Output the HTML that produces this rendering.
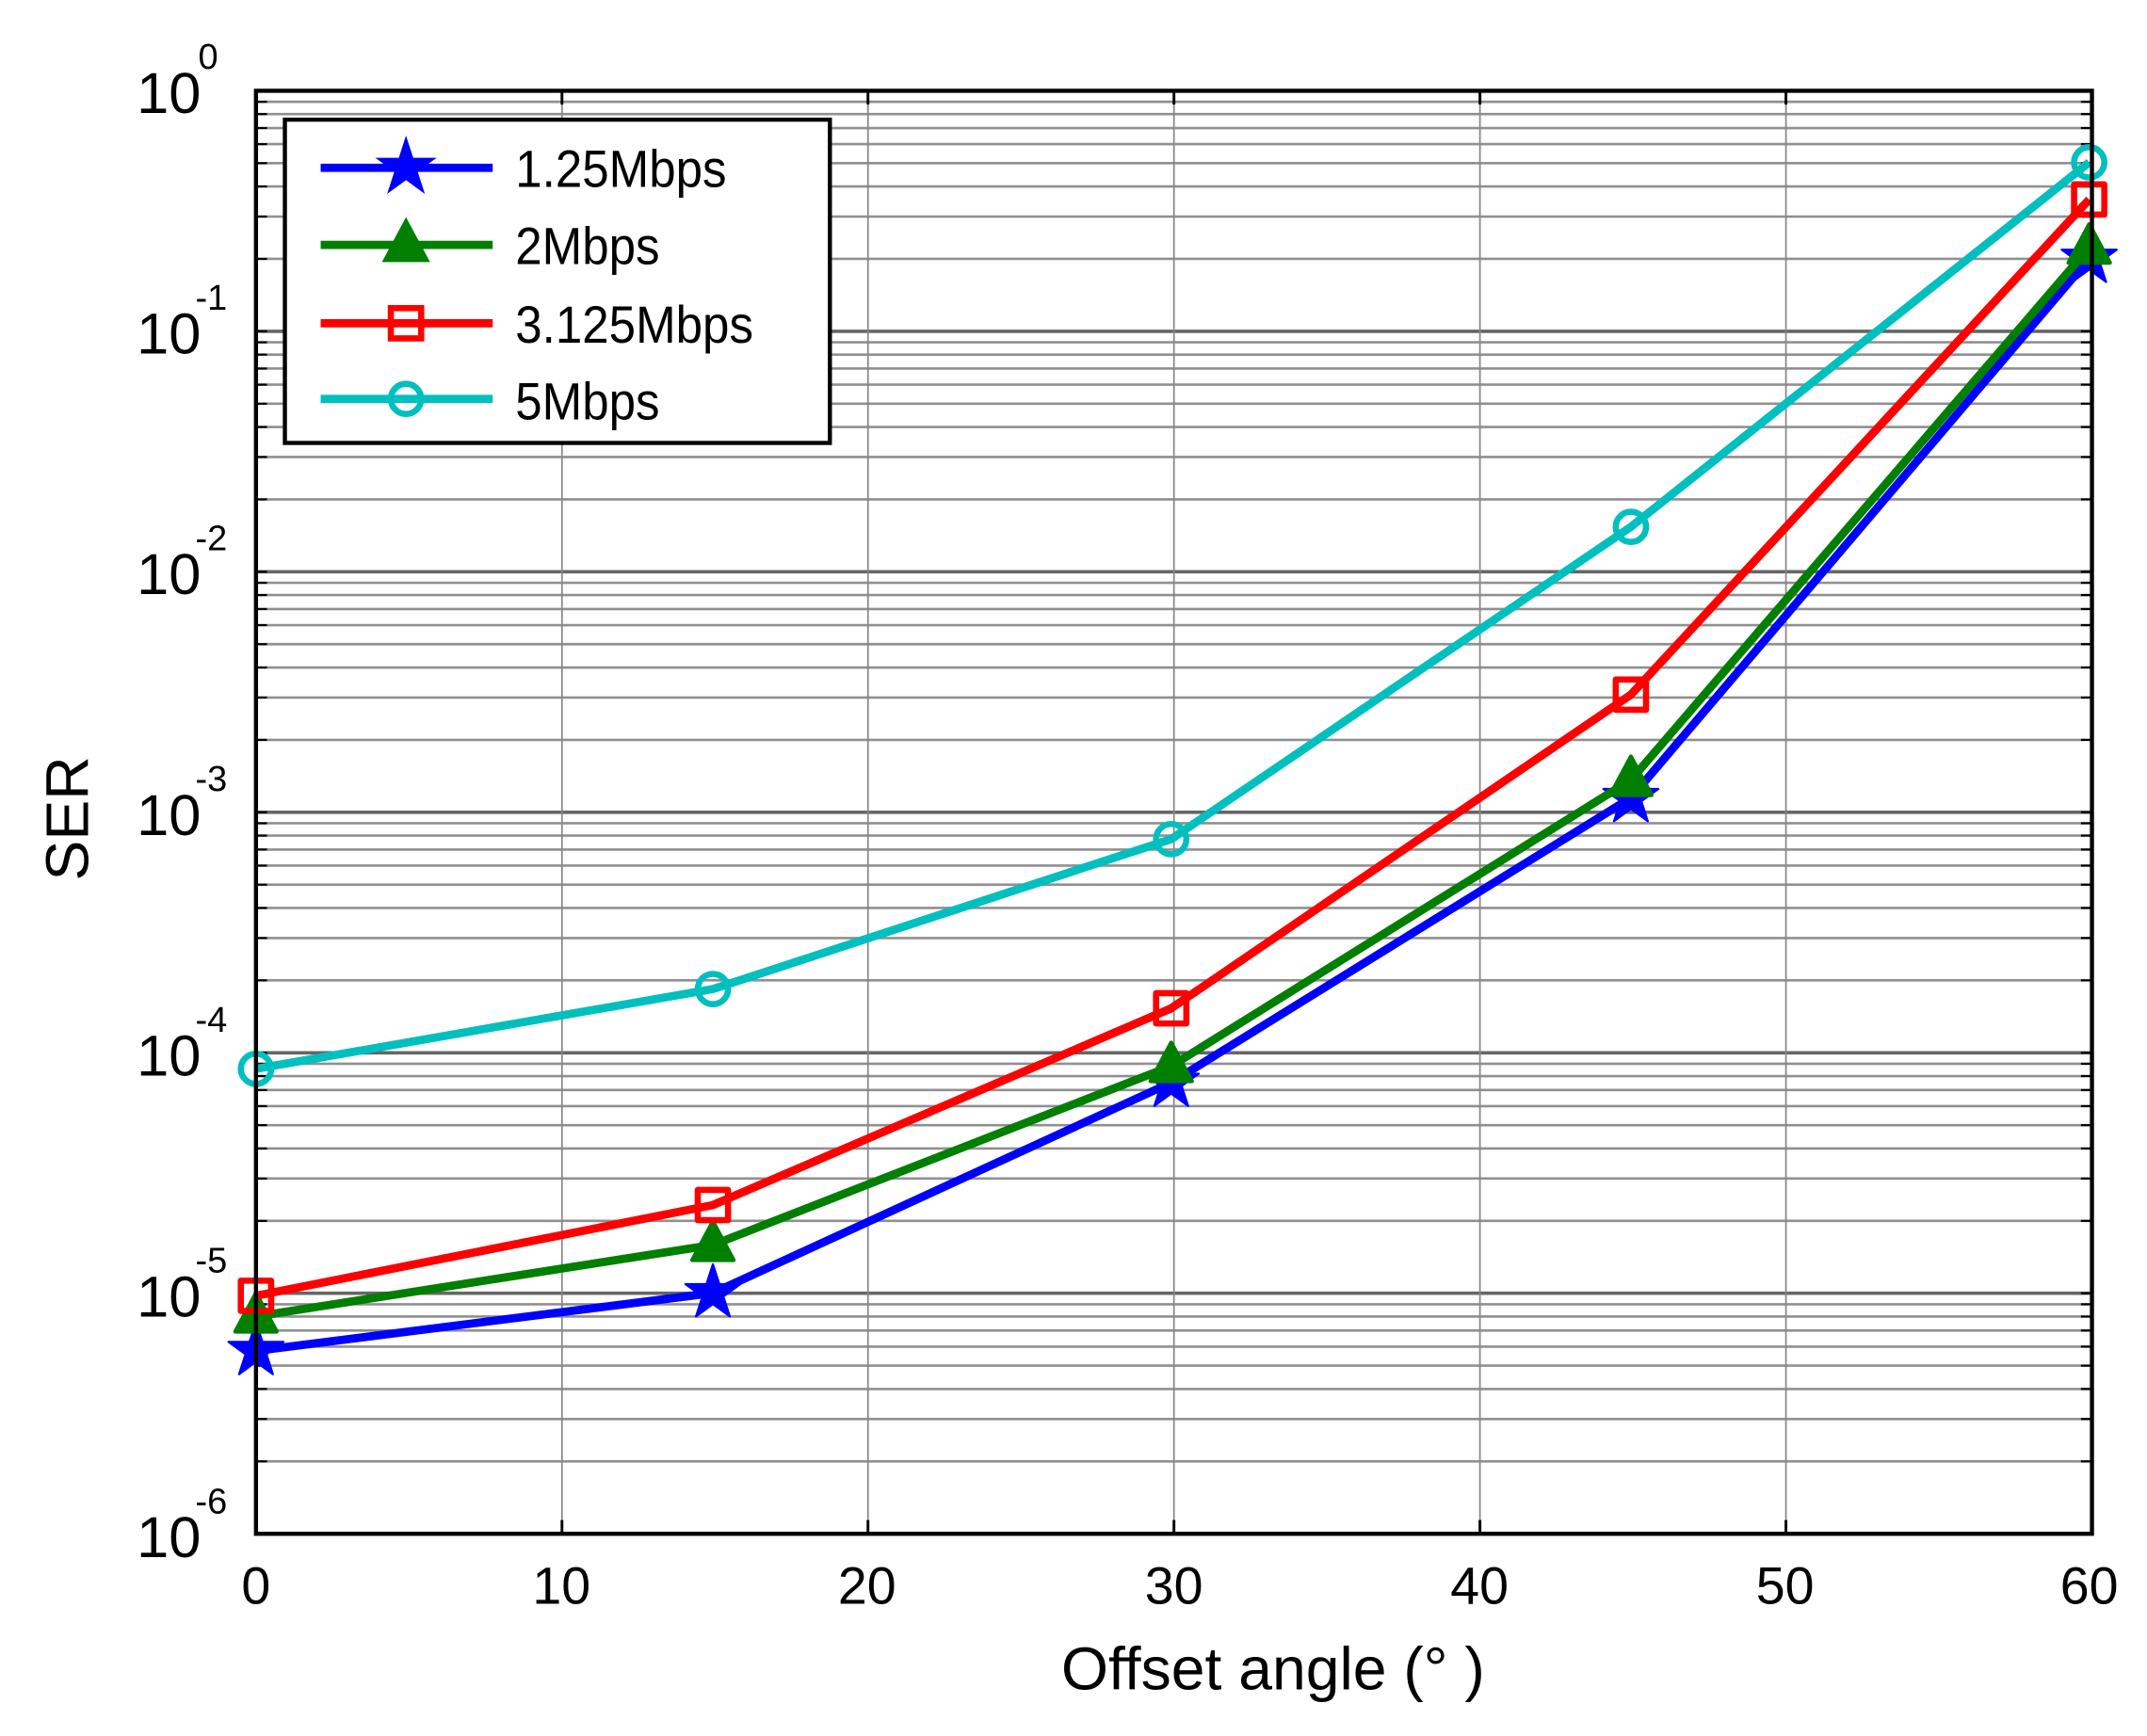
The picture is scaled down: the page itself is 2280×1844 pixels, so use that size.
<!DOCTYPE html>
<html><head><meta charset="utf-8">
<style>
html,body{margin:0;padding:0;background:#fff;}
svg{display:block;}
text{font-family:"Liberation Sans",Arial,sans-serif;fill:#000;}
</style></head>
<body>
<svg id="s" width="2280" height="1844" viewBox="0 0 1560 1262" preserveAspectRatio="none" xmlns="http://www.w3.org/2000/svg">
<rect width="1560" height="1262" fill="#fff"/>
<g id="grid"></g>
<g id="series" fill="none" stroke-width="6" stroke-linejoin="round"></g>
<rect x="186" y="66" width="1334" height="1049" fill="none" stroke="#000" stroke-width="3"/>
<rect x="207" y="87" width="396" height="235" fill="#fff" stroke="#000" stroke-width="3"/>
<g id="legend"></g>
<g font-size="38" transform="scale(0.92,1)">
<text x="407" y="136">1.25Mbps</text>
<text x="407" y="192">2Mbps</text>
<text x="407" y="249">3.125Mbps</text>
<text x="407" y="305">5Mbps</text>
</g>
<g font-size="42" text-anchor="end">
<text x="146" y="82">10</text><text x="146" y="257">10</text><text x="146" y="432">10</text>
<text x="146" y="607">10</text><text x="146" y="782">10</text><text x="146" y="957">10</text><text x="146" y="1132">10</text>
</g>
<g font-size="26">
<text x="144" y="50">0</text><text x="142" y="225">-1</text><text x="142" y="400">-2</text>
<text x="142" y="575">-3</text><text x="142" y="750">-4</text><text x="142" y="925">-5</text><text x="142" y="1100">-6</text>
</g>
<g font-size="38" text-anchor="middle">
<text x="186" y="1166">0</text><text x="408" y="1166">10</text><text x="630" y="1166">20</text>
<text x="853" y="1166">30</text><text x="1075" y="1166">40</text><text x="1297" y="1166">50</text><text x="1518" y="1166">60</text>
</g>
<text x="925" y="1228" font-size="44" text-anchor="middle">Offset angle (°  )</text>
<text transform="translate(64,595) rotate(-90)" font-size="44" text-anchor="middle">SER</text>
</svg>
<script>
var NS="http://www.w3.org/2000/svg";
function el(p,t,a){var e=document.createElementNS(NS,t);for(var k in a)e.setAttribute(k,a[k]);p.appendChild(e);return e;}
var g=document.getElementById('grid');
var L=186,R=1520,T=66,B=1115,D=174.83;
for(var d=0;d<6;d++){
  var yb=T+D*(d+1);
  for(var k=1;k<=9;k++){
    var y=yb-D*Math.log10(k);
    el(g,'line',{x1:L,x2:R,y1:y,y2:y,stroke:k==1?'#666':'#909090','stroke-width':k==1?2.5:1.8});
    el(g,'line',{x1:L,x2:L+8,y1:y,y2:y,stroke:'#000','stroke-width':1.5});
    el(g,'line',{x1:R-8,x2:R,y1:y,y2:y,stroke:'#000','stroke-width':1.5});
  }
}
for(var i=1;i<6;i++){var x=L+(R-L)*i/6;el(g,'line',{x1:x,x2:x,y1:T,y2:B,stroke:'#888','stroke-width':1.2});
 el(g,'line',{x1:x,x2:x,y1:B-10,y2:B,stroke:'#000','stroke-width':2});el(g,'line',{x1:x,x2:x,y1:T,y2:T+10,stroke:'#000','stroke-width':2});}
var X=[186,518,851,1185,1518];
var S=[
 {c:'#0000ff',m:'star',y:[982,940,787,580,188]},
 {c:'#007f00',m:'tri',y:[957,905,775,567,180]},
 {c:'#ff0000',m:'sq',y:[942,876,733,505,145]},
 {c:'#00bfbf',m:'circ',y:[777,719,610,383,118]}
];
var sg=document.getElementById('series');
function marker(p,m,x,y,c){
 if(m=='star'){var pts=[];for(var i=0;i<10;i++){var r=i%2?8:21,a=-Math.PI/2+i*Math.PI/5;pts.push((x+r*Math.cos(a)).toFixed(1)+','+(y+r*Math.sin(a)).toFixed(1));}
  el(p,'polygon',{points:pts.join(' '),fill:c,stroke:c,'stroke-width':1.5});}
 else if(m=='tri'){el(p,'polygon',{points:(x)+','+(y-17)+' '+(x-15)+','+(y+11)+' '+(x+15)+','+(y+11),fill:c,stroke:c,'stroke-width':3});}
 else if(m=='sq'){el(p,'rect',{x:x-11,y:y-11,width:22,height:22,fill:'none',stroke:c,'stroke-width':4.5});}
 else {el(p,'circle',{cx:x,cy:y,r:11,fill:'none',stroke:c,'stroke-width':4.5});}
}
S.forEach(function(s){
 el(sg,'polyline',{points:X.map(function(x,i){return x+','+s.y[i];}).join(' '),stroke:s.c,fill:'none','stroke-width':6});
 X.forEach(function(x,i){marker(sg,s.m,x,s.y[i],s.c);});
});
var lg=document.getElementById('legend');
[122,178,235,290].forEach(function(y,i){
 el(lg,'line',{x1:233,x2:358,y1:y,y2:y,stroke:S[i].c,'stroke-width':6});
 marker(lg,S[i].m,295,y,S[i].c);
});
</script>
</body></html>
